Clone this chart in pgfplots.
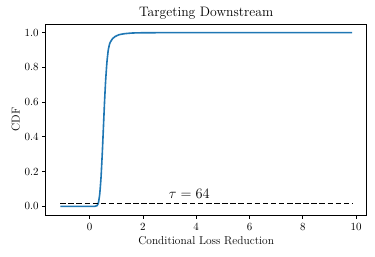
\documentclass[border=0pt]{standalone}
\usepackage{pgfplots}
\pgfplotsset{compat=1.18}
\definecolor{mplblue}{HTML}{1F77B4}
\begin{document}
\begin{tikzpicture}
\begin{axis}[
  name=ax,
  scale only axis,
  width=321pt, height=191pt,
  xmin=-1.6475, xmax=10.3975,
  ymin=-0.05, ymax=1.05,
  xtick={0,2,4,6,8,10},
  ytick={0,0.2,0.4,0.6,0.8,1.0},
  yticklabel style={/pgf/number format/.cd,fixed,fixed zerofill,precision=1},
  tick label style={font=\fontsize{11.4}{13}\selectfont},
  xticklabel style={yshift=-1.5pt},
  label style={font=\fontsize{11.4}{13}\selectfont},
  title style={font=\fontsize{13.7}{15}\selectfont, yshift=-5pt},
  tick align=outside,
  xtick pos=bottom, ytick pos=left,
  major tick length=3.5pt,
  tick style={line width=0.8pt, black},
  axis line style={line width=0.8pt},
  title={Targeting Downstream},
  xlabel={Conditional Loss Reduction},
  ylabel={CDF},
  xlabel style={yshift=1pt},
  ylabel style={yshift=-2pt},
  clip=false,
]
\addplot[mplblue, line width=1.6pt, smooth, tension=0.3] coordinates {
(-1.1,0) (0.0,0) (0.2,0.0) (0.28,0.004) (0.33,0.02) (0.38,0.07) (0.43,0.17) (0.48,0.32) (0.52,0.46) (0.56,0.6) (0.6,0.72) (0.65,0.83) (0.7,0.9) (0.76,0.94) (0.85,0.963) (0.95,0.977) (1.1,0.988) (1.3,0.994) (1.6,0.998) (2.0,0.9995) (3.0,1.0) (9.85,1.0)
};
\addplot[black, line width=1.6pt, dash pattern=on 5.5pt off 2.6pt] coordinates {
(-1.1,0.015625) (9.85,0.015625)
};
\node[anchor=base west, inner sep=0pt, font=\fontsize{13.5}{15}\selectfont] at (axis cs:2.97,0.046) {$\tau = 64$};
\end{axis}
\path ([shift={(-45.7pt,-42pt)}]ax.south west) rectangle ([shift={(8.3pt,24pt)}]ax.north east);
\end{tikzpicture}
\end{document}
